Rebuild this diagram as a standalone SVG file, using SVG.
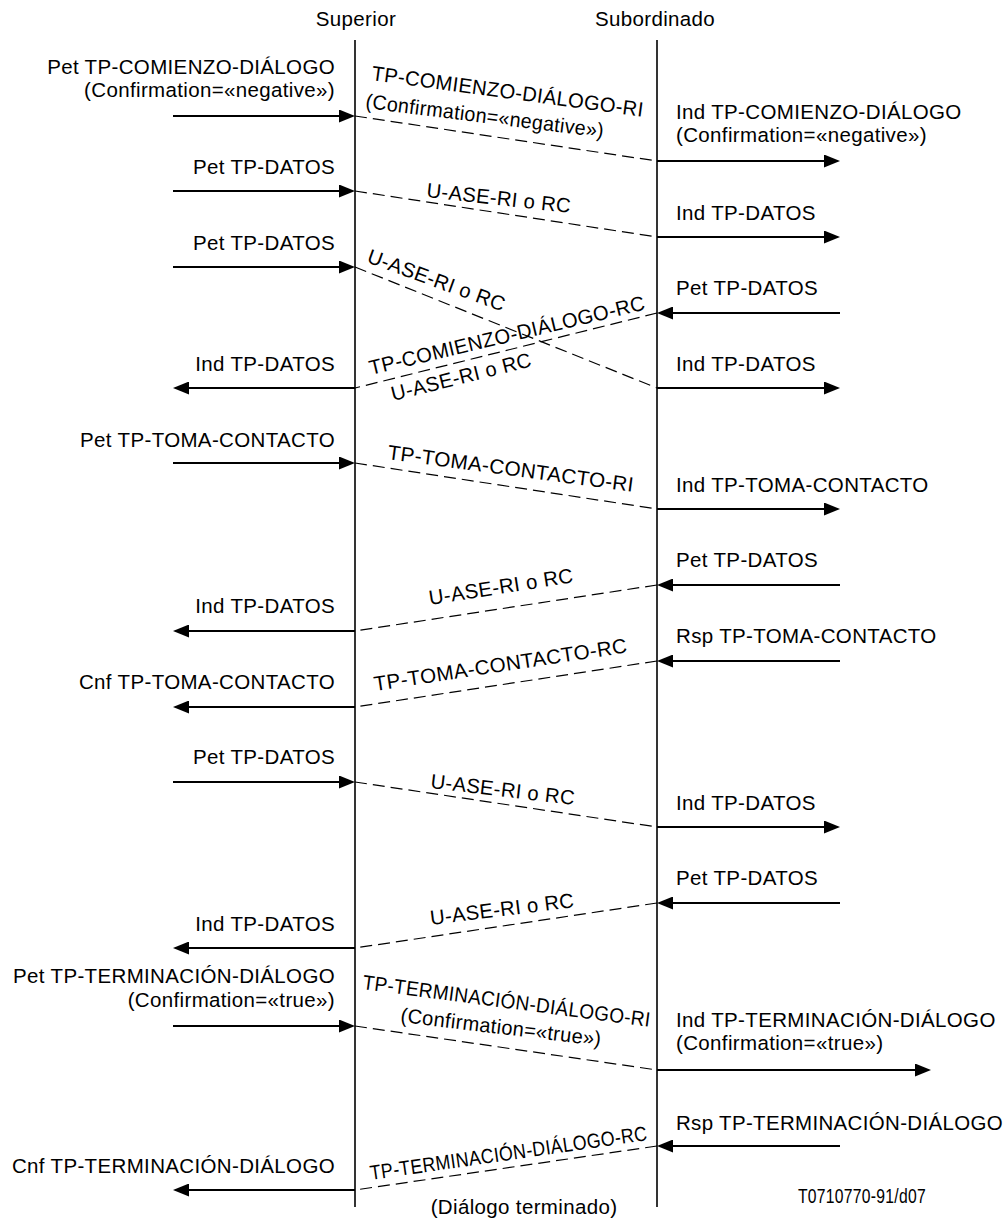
<svg xmlns="http://www.w3.org/2000/svg" width="1008" height="1222" viewBox="0 0 1008 1222">
  <defs>
    <style>
      .t { font-family: "Liberation Sans", Arial, sans-serif; font-size: 20.5px; letter-spacing: 0.35px; fill: #000; }
      .e { text-anchor: end; }
      .m { text-anchor: middle; }
      .life { stroke: #000; stroke-width: 1.6; fill: none; }
      .msg { stroke: #000; stroke-width: 2; fill: none; marker-end: url(#ah); }
      .dash { stroke: #000; stroke-width: 1.2; stroke-dasharray: 12 6; fill: none; }
    </style>
    <marker id="ah" markerUnits="userSpaceOnUse" markerWidth="16" markerHeight="13" refX="8" refY="6.5" orient="auto">
      <path d="M0,0 L16,6.5 L0,13 z" fill="#000"/>
    </marker>
  </defs>
  <rect width="1008" height="1222" fill="#fff"/>

  <!-- lifelines -->
  <g id="superior">
    <text class="t m" x="356" y="26" font-size="19">Superior</text>
    <line class="life" x1="355" y1="40" x2="355" y2="1207"/>
  </g>
  <g id="subordinado">
    <text class="t m" x="655" y="26" font-size="18.5" letter-spacing="0">Subordinado</text>
    <line class="life" x1="657" y1="40" x2="657" y2="1207"/>
  </g>

  <!-- primitives at the Superior side -->
  <g id="superior-primitives">
    <text class="t e" x="335" y="74">Pet TP-COMIENZO-DIÁLOGO</text>
    <text class="t e" x="335" y="97">(Confirmation=«negative»)</text>
    <text class="t e" x="335" y="174">Pet TP-DATOS</text>
    <text class="t e" x="335" y="250">Pet TP-DATOS</text>
    <text class="t e" x="335" y="371">Ind TP-DATOS</text>
    <text class="t e" x="335" y="447">Pet TP-TOMA-CONTACTO</text>
    <text class="t e" x="335" y="613">Ind TP-DATOS</text>
    <text class="t e" x="335" y="689">Cnf TP-TOMA-CONTACTO</text>
    <text class="t e" x="335" y="764">Pet TP-DATOS</text>
    <text class="t e" x="335" y="931">Ind TP-DATOS</text>
    <text class="t e" x="335" y="983">Pet TP-TERMINACIÓN-DIÁLOGO</text>
    <text class="t e" x="335" y="1007">(Confirmation=«true»)</text>
    <text class="t e" x="335" y="1173">Cnf TP-TERMINACIÓN-DIÁLOGO</text>
  </g>

  <!-- primitives at the Subordinado side -->
  <g id="subordinado-primitives">
    <text class="t" x="676" y="119">Ind TP-COMIENZO-DIÁLOGO</text>
    <text class="t" x="676" y="142">(Confirmation=«negative»)</text>
    <text class="t" x="676" y="220">Ind TP-DATOS</text>
    <text class="t" x="676" y="295">Pet TP-DATOS</text>
    <text class="t" x="676" y="371">Ind TP-DATOS</text>
    <text class="t" x="676" y="492">Ind TP-TOMA-CONTACTO</text>
    <text class="t" x="676" y="567">Pet TP-DATOS</text>
    <text class="t" x="676" y="643">Rsp TP-TOMA-CONTACTO</text>
    <text class="t" x="676" y="810">Ind TP-DATOS</text>
    <text class="t" x="676" y="885">Pet TP-DATOS</text>
    <text class="t" x="676" y="1027">Ind TP-TERMINACIÓN-DIÁLOGO</text>
    <text class="t" x="676" y="1050">(Confirmation=«true»)</text>
    <text class="t" x="676" y="1130" textLength="327" lengthAdjust="spacingAndGlyphs">Rsp TP-TERMINACIÓN-DIÁLOGO</text>
  </g>

  <!-- protocol data unit labels along the dashed lines -->
  <g id="pdu-labels">
    <text class="t" transform="translate(371,80) rotate(7.7)" textLength="274" lengthAdjust="spacingAndGlyphs">TP-COMIENZO-DIÁLOGO-RI</text>
    <text class="t" transform="translate(365,108) rotate(7.1)" textLength="240" lengthAdjust="spacingAndGlyphs">(Confirmation=«negative»)</text>
    <text class="t" transform="translate(426,197) rotate(6.3)" textLength="145" lengthAdjust="spacingAndGlyphs">U-ASE-RI o RC</text>
    <text class="t" transform="translate(366,262) rotate(20)" textLength="145" lengthAdjust="spacingAndGlyphs">U-ASE-RI o RC</text>
    <text class="t" transform="translate(371,375) rotate(-13.4)" textLength="283" lengthAdjust="spacingAndGlyphs">TP-COMIENZO-DIÁLOGO-RC</text>
    <text class="t" transform="translate(393,401) rotate(-14)" textLength="144" lengthAdjust="spacingAndGlyphs">U-ASE-RI o RC</text>
    <text class="t" transform="translate(387,459) rotate(7.6)" textLength="248" lengthAdjust="spacingAndGlyphs">TP-TOMA-CONTACTO-RI</text>
    <text class="t" transform="translate(430,605) rotate(-9)" textLength="146" lengthAdjust="spacingAndGlyphs">U-ASE-RI o RC</text>
    <text class="t" transform="translate(375,691) rotate(-8.7)" textLength="256" lengthAdjust="spacingAndGlyphs">TP-TOMA-CONTACTO-RC</text>
    <text class="t" transform="translate(430,788) rotate(6.7)" textLength="145" lengthAdjust="spacingAndGlyphs">U-ASE-RI o RC</text>
    <text class="t" transform="translate(431,925) rotate(-7.1)" textLength="145" lengthAdjust="spacingAndGlyphs">U-ASE-RI o RC</text>
    <text class="t" transform="translate(362,989) rotate(7.5)" textLength="290" lengthAdjust="spacingAndGlyphs">TP-TERMINACIÓN-DIÁLOGO-RI</text>
    <text class="t" transform="translate(400,1022) rotate(6.8)" textLength="202" lengthAdjust="spacingAndGlyphs">(Confirmation=«true»)</text>
    <text class="t" font-size="18" transform="translate(371,1180) rotate(-8.2)" textLength="280" lengthAdjust="spacingAndGlyphs">TP-TERMINACIÓN-DIÁLOGO-RC</text>
  </g>

  <!-- connectors -->
  <g id="connectors">
    <!-- row 1 -->
    <line class="msg" x1="173" y1="116" x2="347" y2="116"/>
    <line class="dash" x1="355" y1="116" x2="657" y2="161"/>
    <line class="msg" x1="657" y1="161" x2="832" y2="161"/>
    <!-- row 2 -->
    <line class="msg" x1="173" y1="191" x2="347" y2="191"/>
    <line class="dash" x1="355" y1="191" x2="657" y2="237"/>
    <line class="msg" x1="657" y1="237" x2="832" y2="237"/>
    <!-- row 3 (crossing) -->
    <line class="msg" x1="173" y1="267" x2="347" y2="267"/>
    <line class="dash" x1="355" y1="267" x2="657" y2="388"/>
    <line class="msg" x1="657" y1="388" x2="832" y2="388"/>
    <line class="msg" x1="840" y1="313" x2="665" y2="313"/>
    <line class="dash" x1="657" y1="313" x2="355" y2="388"/>
    <line class="msg" x1="355" y1="388" x2="181" y2="388"/>
    <!-- row 4 -->
    <line class="msg" x1="173" y1="463" x2="347" y2="463"/>
    <line class="dash" x1="355" y1="463" x2="657" y2="509"/>
    <line class="msg" x1="657" y1="509" x2="832" y2="509"/>
    <!-- row 5 -->
    <line class="msg" x1="840" y1="585" x2="665" y2="585"/>
    <line class="dash" x1="657" y1="585" x2="355" y2="631"/>
    <line class="msg" x1="355" y1="631" x2="181" y2="631"/>
    <!-- row 6 -->
    <line class="msg" x1="840" y1="661" x2="665" y2="661"/>
    <line class="dash" x1="657" y1="661" x2="355" y2="707"/>
    <line class="msg" x1="355" y1="707" x2="181" y2="707"/>
    <!-- row 7 -->
    <line class="msg" x1="173" y1="782" x2="347" y2="782"/>
    <line class="dash" x1="355" y1="782" x2="657" y2="827"/>
    <line class="msg" x1="657" y1="827" x2="832" y2="827"/>
    <!-- row 8 -->
    <line class="msg" x1="840" y1="903" x2="665" y2="903"/>
    <line class="dash" x1="657" y1="903" x2="355" y2="948"/>
    <line class="msg" x1="355" y1="948" x2="181" y2="948"/>
    <!-- row 9 -->
    <line class="msg" x1="173" y1="1026" x2="347" y2="1026"/>
    <line class="dash" x1="355" y1="1026" x2="657" y2="1070"/>
    <line class="msg" x1="657" y1="1070" x2="923" y2="1070"/>
    <!-- row 10 -->
    <line class="msg" x1="840" y1="1146" x2="665" y2="1146"/>
    <line class="dash" x1="657" y1="1146" x2="355" y2="1190"/>
    <line class="msg" x1="355" y1="1190" x2="181" y2="1190"/>
  </g>

  <!-- footer -->
  <g id="footer">
    <text class="t m" x="524" y="1214" letter-spacing="0">(Diálogo terminado)</text>
    <text class="t" x="798" y="1203" font-size="13" letter-spacing="0" textLength="128" lengthAdjust="spacingAndGlyphs">T0710770-91/d07</text>
  </g>
</svg>
